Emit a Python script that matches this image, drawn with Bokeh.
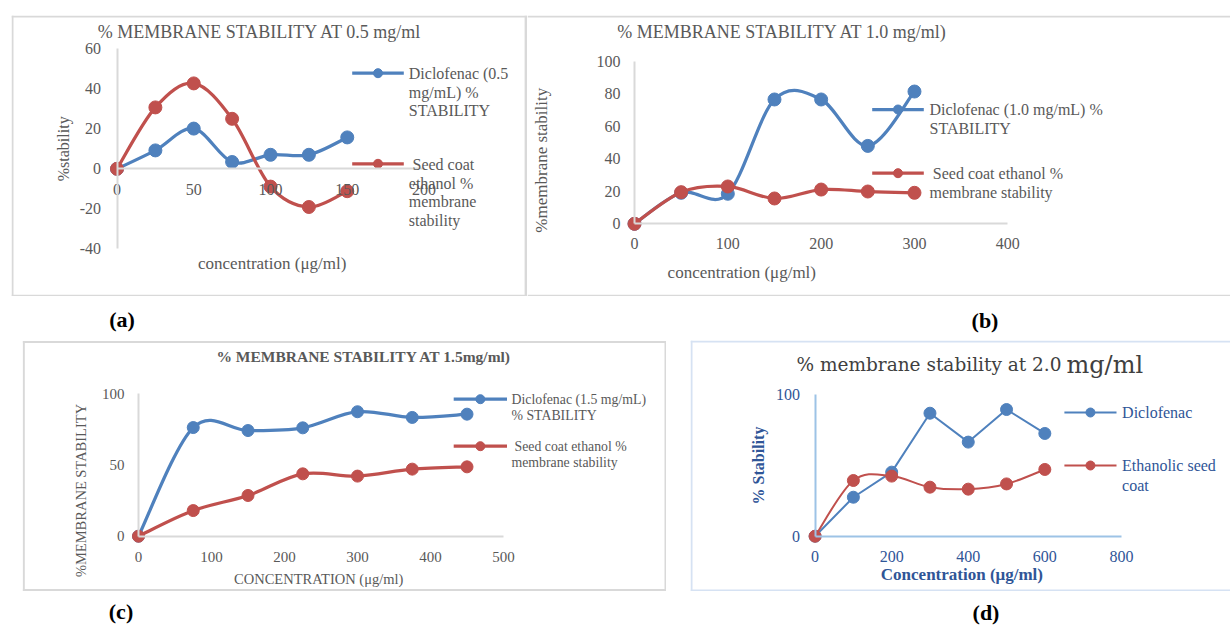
import math
from bokeh.plotting import figure
from bokeh.models import Range1d, LinearAxis, FixedTicker, Label, Spacer, Div
from bokeh.layouts import row, column
from bokeh.embed import file_html
from bokeh.resources import INLINE

BLUE = "#4F81BD"
RED = "#C0504D"
GREY_TXT = "#595959"
GREY_AX = "#D9D9D9"
SERIF = "Liberation Serif"
D_TXT = "#2F5597"
D_AX = "#9DC3E6"
D_BORDER = "#D6E2F3"

# ---------------- data ----------------
a_conc = [0, 25, 50, 75, 100, 125, 150]
a_diclofenac = [0, 9.2, 20.1, 3.4, 7.0, 7.0, 15.7]
a_seed = [0, 30.7, 42.7, 25.0, -8.9, -19.1, -11.2]
a_xticks = [0, 50, 100, 150, 200]
a_yticks = [-40, -20, 0, 20, 40, 60]

b_conc = [0, 50, 100, 150, 200, 250, 300]
b_diclofenac = [0, 19.1, 18.5, 76.6, 76.6, 48.0, 81.5]
b_seed = [0, 19.5, 23.0, 15.6, 21.1, 19.9, 19.1]
b_xticks = [0, 100, 200, 300, 400]
b_yticks = [0, 20, 40, 60, 80, 100]

c_conc = [0, 75, 150, 225, 300, 375, 450]
c_diclofenac = [0, 76.3, 74.2, 76.1, 87.4, 83.4, 85.7]
c_seed = [0, 18.0, 28.6, 43.8, 42.2, 47.1, 48.7]
c_xticks = [0, 100, 200, 300, 400, 500]
c_yticks = [0, 50, 100]

d_conc = [0, 100, 200, 300, 400, 500, 600]
d_diclofenac = [0, 27.5, 45.2, 86.8, 66.4, 89.4, 72.5]
d_seed = [0, 39.3, 42.4, 34.6, 33.2, 36.9, 47.1]
d_xticks = [0, 200, 400, 600, 800]
d_yticks = [0, 100]


def smooth_segments(xs, ys):
    n = len(xs)
    out = dict(x0=[], y0=[], x1=[], y1=[], cx0=[], cy0=[], cx1=[], cy1=[])
    for i in range(n - 1):
        im = max(i - 1, 0)
        ip = min(i + 2, n - 1)
        out["x0"].append(xs[i]); out["y0"].append(ys[i])
        out["x1"].append(xs[i + 1]); out["y1"].append(ys[i + 1])
        out["cx0"].append(xs[i] + (xs[i + 1] - xs[im]) / 6.0)
        out["cy0"].append(ys[i] + (ys[i + 1] - ys[im]) / 6.0)
        out["cx1"].append(xs[i + 1] - (xs[ip] - xs[i]) / 6.0)
        out["cy1"].append(ys[i + 1] - (ys[ip] - ys[i]) / 6.0)
    return out


class Panel:
    """A figure whose frame fills its whole canvas; positions given in page pixels."""

    def __init__(self, W, H, ox, oy, xmap, ymap):
        x0, X0, x1, X1 = xmap
        y0, Y0, y1, Y1 = ymap
        self.x0, self.X0, self.y0, self.Y0 = x0, X0, y0, Y0
        self.kx = (X1 - X0) / (x1 - x0)
        self.ky = (Y0 - Y1) / (y1 - y0)
        self.p = figure(
            width=W, height=H, title=None,
            x_range=Range1d(self.dx(ox), self.dx(ox + W)),
            y_range=Range1d(self.dy(oy + H), self.dy(oy)),
            x_axis_location=None, y_axis_location=None,
            toolbar_location=None, output_backend="svg",
            min_border_left=0, min_border_right=0,
            min_border_top=0, min_border_bottom=0,
        )
        p = self.p
        p.outline_line_color = None
        p.background_fill_color = "white"
        p.border_fill_color = "white"
        p.grid.visible = False

    def dx(self, px):
        return self.x0 + (px - self.X0) / self.kx

    def dy(self, py):
        return self.y0 + (self.Y0 - py) / self.ky

    def border(self, segs, color, width=2):
        self.p.segment(
            x0=[self.dx(s[0]) for s in segs], y0=[self.dy(s[1]) for s in segs],
            x1=[self.dx(s[2]) for s in segs], y1=[self.dy(s[3]) for s in segs],
            line_color=color, line_width=width)

    def axes(self, xticks, yticks, line_color, txt_color, size, xstand, ystand):
        xa = LinearAxis(ticker=FixedTicker(ticks=xticks), bounds=(xticks[0], xticks[-1]), fixed_location=0)
        ya = LinearAxis(ticker=FixedTicker(ticks=yticks), bounds=(yticks[0], yticks[-1]), fixed_location=0)
        for ax, st, ticks in ((xa, xstand, xticks), (ya, ystand, yticks)):
            ax.axis_line_color = line_color
            ax.axis_line_width = 2
            ax.major_tick_line_color = None
            ax.minor_tick_line_color = None
            ax.major_tick_in = 0
            ax.major_tick_out = 0
            ax.minor_tick_in = 0
            ax.minor_tick_out = 0
            ax.major_label_standoff = st
            ax.major_label_text_font = SERIF
            ax.major_label_text_font_size = f"{size}px"
            ax.major_label_text_color = txt_color
            ax.major_label_overrides = {t: str(t) for t in ticks}
        self.p.add_layout(xa, "below")
        self.p.add_layout(ya, "left")

    def series(self, xs, ys, color, lw, ms, smooth=True):
        if smooth:
            seg = smooth_segments(xs, ys)
            self.p.bezier(line_color=color, line_width=lw, line_cap="round", **seg)
        else:
            self.p.line(xs, ys, line_color=color, line_width=lw, line_join="round")
        self.p.scatter(xs, ys, size=ms, fill_color=color, line_color=color)

    def legend_sample(self, xl, xr, yc, color, lw, ms):
        self.p.line([self.dx(xl), self.dx(xr)], [self.dy(yc), self.dy(yc)], line_color=color, line_width=lw)
        self.p.scatter([self.dx((xl + xr) / 2.0)], [self.dy(yc)], size=ms, fill_color=color, line_color=color)

    def text(self, px, py, s, size, color=GREY_TXT, font=SERIF, bold=False, align="left",
             baseline="middle", angle=0.0):
        self.p.add_layout(Label(
            x=self.dx(px), y=self.dy(py), text=s, text_font=font,
            text_font_size=f"{size}px", text_font_style="bold" if bold else "normal",
            text_color=color, text_align=align, text_baseline=baseline, angle=angle))


# ---------------- panel (a) ----------------
A = Panel(516, 281, 11, 15, (0, 116.5, 200, 423.5), (-40, 248.3, 60, 48.3))
A.border([(12, 15, 12, 296), (11, 16, 527, 16), (11, 295.3, 527, 295.3)], GREY_AX)
A.border([(525.6, 15, 525.6, 296)], GREY_AX, 3)
A.axes(a_xticks, a_yticks, GREY_AX, GREY_TXT, 16, 15, 16)
A.series(a_conc, a_diclofenac, BLUE, 3.25, 13)
A.series(a_conc, a_seed, RED, 3.25, 13)
A.text(259.5, 31.5, "% MEMBRANE STABILITY AT 0.5 mg/ml", 18, align="center")
A.text(63.3, 148.3, "%stability", 16, align="center", angle=math.pi / 2)
A.text(271.7, 263.3, "concentration (μg/ml)", 17, align="center")
A.legend_sample(351.7, 403.3, 72.7, BLUE, 3.25, 9)
A.legend_sample(351.7, 403.3, 163.3, RED, 3.25, 9)
for t, y in (("Diclofenac (0.5", 72.7), ("mg/mL) %", 92.3), ("STABILITY", 110)):
    A.text(408.3, y, t, 16)
A.text(412, 164, "Seed coat", 16)
for t, y in (("ethanol %", 183.3), ("membrane", 201), ("stability", 220)):
    A.text(408.3, y, t, 16)

# ---------------- panel (b) ----------------
B = Panel(703, 281, 527, 15, (0, 634, 400, 1007.3), (0, 223.3, 100, 61))
B.border([(527, 16, 1230, 16), (527, 295.3, 1230, 295.3)], GREY_AX)
B.axes(b_xticks, b_yticks, GREY_AX, GREY_TXT, 16, 14, 14)
B.series(b_conc, b_diclofenac, BLUE, 3.25, 13)
B.series(b_conc, b_seed, RED, 3.25, 13)
B.text(782, 31.7, "% MEMBRANE STABILITY AT 1.0 mg/ml)", 18, align="center")
B.text(541, 159.7, "%membrane stability", 17, align="center", angle=math.pi / 2)
B.text(741.3, 272, "concentration (μg/ml)", 17, align="center")
B.legend_sample(871.7, 923.3, 109, BLUE, 3.25, 9)
B.legend_sample(871.7, 923.3, 172.7, RED, 3.25, 9)
B.text(929, 109, "Diclofenac (1.0 mg/mL) %", 16)
B.text(929, 127.7, "STABILITY", 16)
B.text(932.3, 172.7, "Seed coat ethanol %", 16)
B.text(929, 192.3, "membrane stability", 16)

# ---------------- panel (c) ----------------
C = Panel(644, 251, 22, 340, (0, 138, 500, 503), (0, 535.7, 100, 393.3))
C.border([(23.3, 340.5, 23.3, 590.5), (665, 340.5, 665, 590.5),
          (22.3, 341.5, 666, 341.5), (22.3, 589.5, 666, 589.5)], GREY_AX)
C.axes(c_xticks, c_yticks, GREY_AX, GREY_TXT, 15, 16, 14)
C.series(c_conc, c_diclofenac, BLUE, 3.25, 12)
C.series(c_conc, c_seed, RED, 3.25, 12)
C.text(363.6, 356, "% MEMBRANE STABILITY AT 1.5mg/ml)", 15.5, bold=True, align="center")
C.text(80, 490, "%MEMBRANE STABILITY", 14.5, align="center", angle=math.pi / 2)
C.text(320, 578, "CONCENTRATION  (μg/ml)", 14.5, align="center")
C.legend_sample(453.2, 506.5, 398.7, BLUE, 3.25, 9)
C.legend_sample(453.2, 506.5, 445.7, RED, 3.25, 9)
C.text(511, 399, "Diclofenac (1.5 mg/mL)", 13.8)
C.text(511, 414.7, "% STABILITY", 13.8)
C.text(514, 446, "Seed coat ethanol %", 13.8)
C.text(511, 461.7, "membrane stability", 13.8)

# ---------------- panel (d) ----------------
D = Panel(540, 251, 690, 340, (0, 814.6, 800, 1120.9), (0, 535.7, 100, 394))
D.border([(691, 340, 691, 591), (690, 341, 1230, 341), (690, 590, 1230, 590)], D_BORDER)
D.axes(d_xticks, d_yticks, D_AX, D_TXT, 16, 15, 15)
D.series(d_conc, d_diclofenac, BLUE, 2, 12, smooth=False)
D.series(d_conc, d_seed, RED, 2, 12, smooth=True)
D.text(1061, 364, "% membrane stability at 2.0", 18.5, color="#404040", font="DejaVu Serif",
       align="right", baseline="alphabetic")
D.text(1066, 364, "mg/ml", 24, color="#404040", font="DejaVu Serif", align="left", baseline="alphabetic")
D.text(758, 465, "% Stability", 16, color=D_TXT, bold=True, align="center", angle=math.pi / 2)
D.text(961.4, 574, "Concentration (μg/ml)", 17, color=D_TXT, bold=True, align="center")
D.legend_sample(1063.9, 1116, 412, BLUE, 2, 9)
D.legend_sample(1063.9, 1116, 465, RED, 2, 9)
D.text(1121.6, 412, "Diclofenac", 16, color=D_TXT)
D.text(1121.6, 465, "Ethanolic seed", 16, color=D_TXT)
D.text(1121.6, 485, "coat", 16, color=D_TXT)


def label_div(height, items):
    spans = "".join(
        f'<span style="position:absolute;left:{x}px;top:{y}px;transform:translate(-50%,-50%);'
        f"font-family:'Liberation Serif';font-weight:bold;font-size:22px;line-height:22px;"
        f'color:#000;white-space:nowrap;">{t}</span>'
        for t, x, y in items)
    html = f'<div style="position:relative;width:1230px;height:{height}px;margin:0;">{spans}</div>'
    return Div(text=html, width=1230, height=height, margin=(0, 0, 0, 0))


div1 = label_div(44, [("(a)", 122, 24), ("(b)", 985, 25)])
div2 = label_div(34, [("(c)", 121, 21), ("(d)", 986, 22)])

layout = column(
    Spacer(width=1230, height=15),
    row(Spacer(width=11, height=281), A.p, B.p),
    div1,
    row(Spacer(width=22, height=251), C.p, Spacer(width=24, height=251), D.p),
    div2,
)

open("out.html", "w").write(file_html(layout, INLINE))
